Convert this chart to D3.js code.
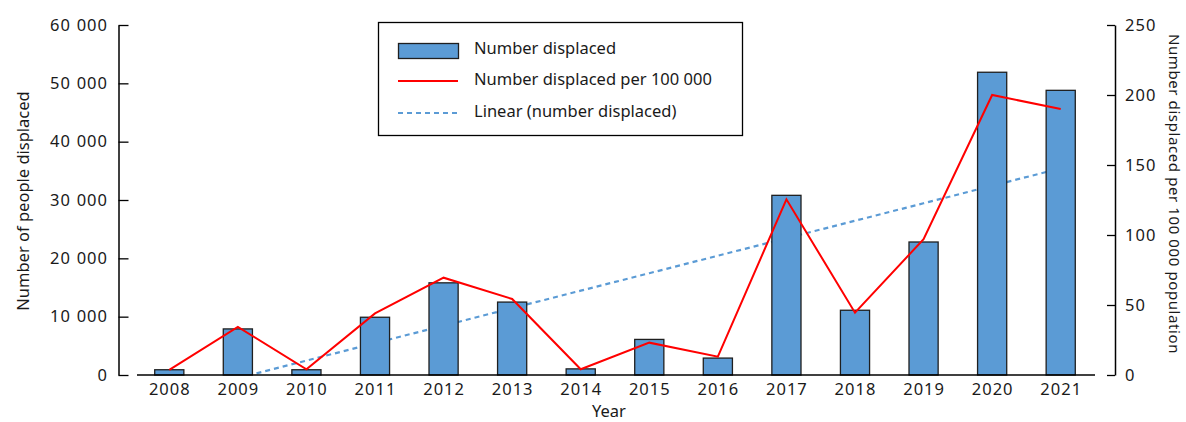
<!DOCTYPE html>
<html>
<head>
<meta charset="utf-8">
<script src="https://cdn.jsdelivr.net/npm/d3@7"></script>
<style>
  body { margin: 0; background: #fff; }
  svg text { font-family: "Noto Sans", sans-serif; fill: #1a1a1a; }
</style>
</head>
<body>
<svg id="chart" width="1186" height="422"></svg>
<script>
const years = ["2008","2009","2010","2011","2012","2013","2014","2015","2016","2017","2018","2019","2020","2021"];
const displaced = [900, 7900, 900, 9900, 15800, 12500, 1050, 6100, 2900, 30800, 11100, 22800, 51900, 48800];
const per100k = [3.6, 34.3, 4.1, 44, 69.5, 54.3, 4.1, 23.1, 13.1, 125.5, 44.5, 97, 200, 190];
const leftTicks = [0, 10000, 20000, 30000, 40000, 50000, 60000];
const rightTicks = [0, 50, 100, 150, 200, 250];
const legendLabels = ["Number displaced", "Number displaced per 100 000", "Linear (number displaced)"];

const svg = d3.select("#chart");
const plotTop = 25, plotBottom = 375;
const x = d3.scaleBand().domain(years).range([135, 1095]).paddingInner(0.575).paddingOuter(0.2875);
const yL = d3.scaleLinear().domain([0, 60000]).range([plotBottom, plotTop]);
const yR = d3.scaleLinear().domain([0, 250]).range([plotBottom, plotTop]);
const fmt = d => d3.format(",")(d).replace(/,/g, " ");
const cx = d => x(d) + x.bandwidth() / 2;

// clip for trend line
svg.append("defs").append("clipPath").attr("id", "plotclip")
  .append("rect").attr("x", 130).attr("y", plotTop).attr("width", 980).attr("height", plotBottom - plotTop);

// linear trend (least squares) of displaced
const n = displaced.length;
const xs = d3.range(n);
const mx = d3.mean(xs), my = d3.mean(displaced);
const slope = d3.sum(xs, (i) => (i - mx) * (displaced[i] - my)) / d3.sum(xs, i => (i - mx) ** 2);
const icpt = my - slope * mx;
const trend = xs.map(i => ({ yr: years[i], v: icpt + slope * i }));
svg.append("path")
  .datum(trend)
  .attr("clip-path", "url(#plotclip)")
  .attr("fill", "none")
  .attr("stroke", "#5B9BD5")
  .attr("stroke-width", 2.2)
  .attr("stroke-dasharray", "5,4")
  .attr("d", d3.line().x(d => cx(d.yr)).y(d => yL(d.v)));

// bars
svg.append("g").selectAll("rect").data(years).join("rect")
  .attr("x", d => x(d))
  .attr("width", x.bandwidth())
  .attr("y", (d, i) => yL(displaced[i]))
  .attr("height", (d, i) => plotBottom - yL(displaced[i]))
  .attr("fill", "#5B9BD5")
  .attr("stroke", "#1f1f1f")
  .attr("stroke-width", 1.3);

// red line
svg.append("path")
  .datum(per100k)
  .attr("fill", "none")
  .attr("stroke", "#FF0000")
  .attr("stroke-width", 2)
  .attr("d", d3.line().x((d, i) => cx(years[i])).y(d => yR(d)));

// x baseline
svg.append("line").attr("x1", 137).attr("x2", 1095).attr("y1", plotBottom).attr("y2", plotBottom)
  .attr("stroke", "#000").attr("stroke-width", 1.5);

// left axis
const gL = svg.append("g").attr("transform", "translate(118.5,0)")
  .call(d3.axisRight(yL).tickValues(leftTicks).tickSize(10).tickSizeOuter(0).tickFormat(() => ""));
gL.select(".domain").attr("stroke-width", 1.5);
gL.selectAll(".tick line").attr("stroke-width", 1.3);
svg.append("g").selectAll("text").data(leftTicks).join("text")
  .attr("x", 108).attr("y", d => yL(d)).attr("dy", "0.35em")
  .attr("text-anchor", "end").attr("font-size", 16.5)
  .attr("letter-spacing", 1).attr("word-spacing", 0.5)
  .text(d => fmt(d));

// right axis
const gR = svg.append("g").attr("transform", "translate(1115,0)")
  .call(d3.axisLeft(yR).tickValues(rightTicks).tickSize(8).tickSizeOuter(0).tickFormat(() => ""));
gR.select(".domain").attr("stroke-width", 1.5);
gR.selectAll(".tick line").attr("stroke-width", 1.3);
svg.append("g").selectAll("text").data(rightTicks).join("text")
  .attr("x", 1125).attr("y", d => yR(d)).attr("dy", "0.35em")
  .attr("text-anchor", "start").attr("font-size", 16.5).attr("letter-spacing", 1)
  .text(d => d);

// x tick labels
svg.append("g").selectAll("text").data(years).join("text")
  .attr("x", d => cx(d) + 0.5).attr("y", 395)
  .attr("text-anchor", "middle").attr("font-size", 16.5).attr("letter-spacing", 1)
  .text(d => d);

// axis titles
svg.append("text").attr("x", 609).attr("y", 417).attr("text-anchor", "middle")
  .attr("font-size", 16.5).text("Year");
svg.append("text").attr("transform", "translate(29,201) rotate(-90)")
  .attr("text-anchor", "middle").attr("font-size", 16.5).text("Number of people displaced");
svg.append("text").attr("transform", "translate(1169,194) rotate(90)")
  .attr("text-anchor", "middle").attr("font-size", 15).attr("letter-spacing", 0.6)
  .text("Number displaced per 100 000 population");

// legend
const lg = svg.append("g");
lg.append("rect").attr("x", 378.5).attr("y", 22.5).attr("width", 364).attr("height", 113)
  .attr("fill", "#fff").attr("stroke", "#000").attr("stroke-width", 1.3);
lg.append("rect").attr("x", 398.5).attr("y", 43.5).attr("width", 60).attr("height", 15)
  .attr("fill", "#5B9BD5").attr("stroke", "#1f1f1f").attr("stroke-width", 1.3);
lg.append("line").attr("x1", 398).attr("x2", 458).attr("y1", 81).attr("y2", 81)
  .attr("stroke", "#FF0000").attr("stroke-width", 2);
lg.append("line").attr("x1", 398).attr("x2", 458).attr("y1", 113).attr("y2", 113)
  .attr("stroke", "#5B9BD5").attr("stroke-width", 2.2).attr("stroke-dasharray", "5,4");
lg.selectAll("text.leg").data(legendLabels).join("text").attr("class", "leg")
  .attr("x", 474).attr("y", (d, i) => [48, 79, 111][i]).attr("dy", "0.35em")
  .attr("font-size", 16.5)
  .text(d => d);
</script>
</body>
</html>
